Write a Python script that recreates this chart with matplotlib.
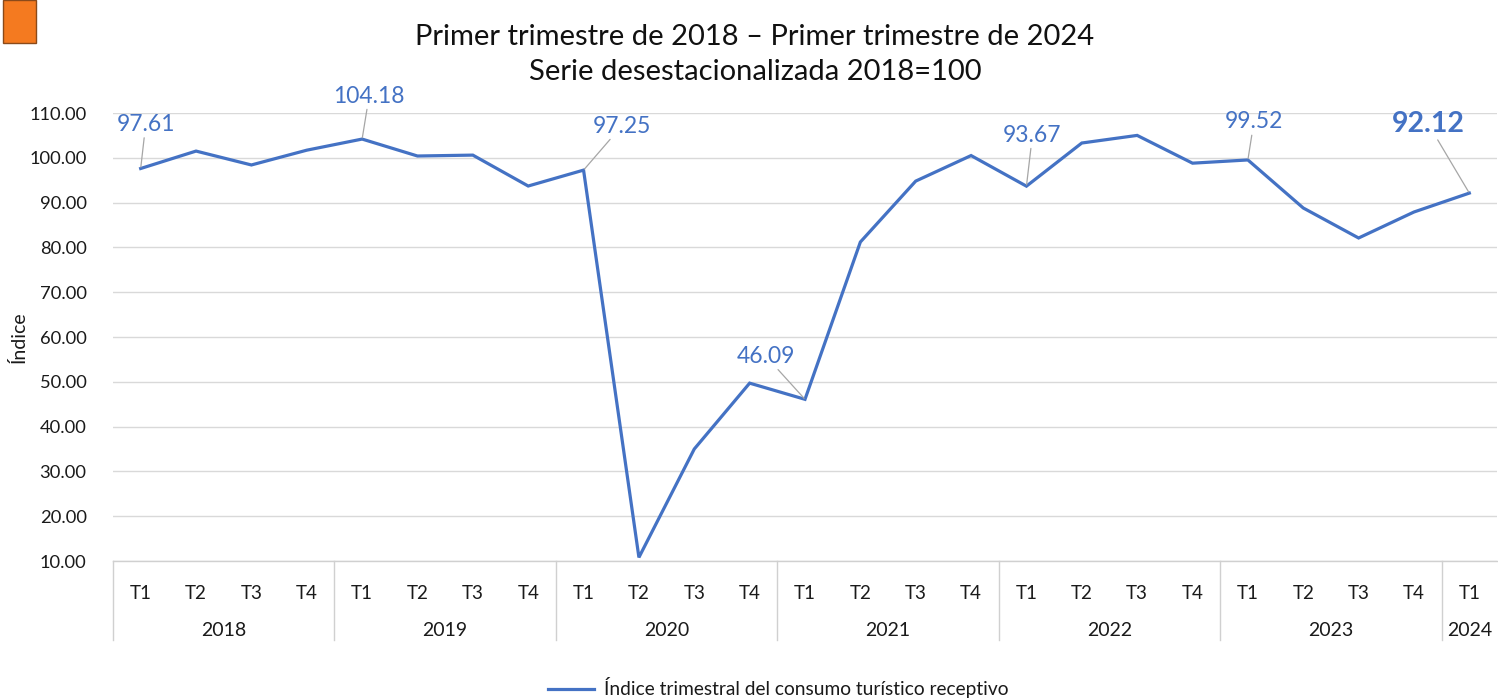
import matplotlib
matplotlib.use("Agg")
import matplotlib.pyplot as plt
from matplotlib.patches import Rectangle
from matplotlib.lines import Line2D
import matplotlib.transforms as mtransforms

plt.rcParams['font.family'] = ['Lato', 'DejaVu Sans']

# ---- data ----
quarters = ["T1", "T2", "T3", "T4"] * 6 + ["T1"]
years = ["2018", "2019", "2020", "2021", "2022", "2023", "2024"]
year_counts = [4, 4, 4, 4, 4, 4, 1]
values = [97.61, 101.5, 98.4, 101.7,
          104.18, 100.4, 100.6, 93.7,
          97.25, 10.8, 35.0, 49.7,
          46.09, 81.2, 94.8, 100.5,
          93.67, 103.3, 105.0, 98.8,
          99.52, 88.8, 82.1, 87.9,
          92.12]
label_idx = [0, 4, 8, 12, 16, 20, 24]
title_lines = ["Primer trimestre de 2018 – Primer trimestre de 2024",
               "Serie desestacionalizada 2018=100"]
series_name = "Índice trimestral del consumo turístico receptivo"
yticks = [10, 20, 30, 40, 50, 60, 70, 80, 90, 100, 110]

BLUE = "#4472C4"
TXT = "#1a1a1a"
W, H = 1498, 699
fig = plt.figure(figsize=(W / 100, H / 100), dpi=100)
ax = fig.add_axes([113 / W, 1 - 561 / H, (1497 - 113) / W, (561 - 113) / H])

x = list(range(len(values)))
ax.plot(x, values, color=BLUE, lw=2.3, solid_joinstyle="miter", zorder=3)

ax.set_xlim(-0.5, len(values) - 0.5)
ax.set_ylim(10, 110)
ax.set_yticks(yticks)
ax.set_yticklabels([f"{v:.2f}" for v in yticks], fontsize=13.2, color=TXT)
ax.yaxis.grid(True, color="#D9D9D9", lw=1.0)
ax.set_axisbelow(True)
ax.tick_params(axis="y", length=0, pad=19)
ax.tick_params(axis="x", length=0, pad=17)
ax.set_xticks(x)
ax.set_xticklabels(quarters, fontsize=13.5, color=TXT)
for s in ["top", "right", "left"]:
    ax.spines[s].set_visible(False)
ax.spines["bottom"].set_color("#D0D0D0")
ax.spines["bottom"].set_linewidth(1.0)

ax.yaxis.set_label_coords(-(113 - 28) / 1384, 0.5)
ax.set_ylabel("Índice", fontsize=14, color=TXT)

# year groups
trans = mtransforms.blended_transform_factory(ax.transData, ax.transAxes)
sep_bottom = -(640 - 561) / 448
start = 0
bounds = [-0.5]
for yr, n in zip(years, year_counts):
    center = start + (n - 1) / 2
    ax.text(center, -(630 - 561) / 448, yr, transform=trans, ha="center",
            va="center", fontsize=14, color=TXT)
    start += n
    bounds.append(start - 0.5)
for b in bounds[:-1]:
    ax.add_line(Line2D([b, b], [0, sep_bottom], transform=trans, color="#D0D0D0",
                       lw=1.0, clip_on=False))

# data labels
offsets = {0: (5, 44), 4: (7, 43), 8: (38, 44), 12: (-39, 43),
           16: (6, 51), 20: (6, 38), 24: (-41, 69)}
for i in label_idx:
    dx, dy = offsets[i]
    bold = (i == len(values) - 1)
    ax.annotate(f"{values[i]:.2f}", xy=(x[i], values[i]), xytext=(dx, dy),
                textcoords="offset pixels", ha="center", va="center",
                fontsize=20.5 if bold else 16.5, color=BLUE,
                fontweight="bold" if bold else "normal",
                arrowprops=dict(arrowstyle="-", color="#A6A6A6", lw=0.9,
                                shrinkA=0, shrinkB=1),
                zorder=4, annotation_clip=False)

# title
fig.text(755 / W, 1 - 37 / H, title_lines[0], ha="center", va="center",
         fontsize=21, color="#111111")
fig.text(755 / W, 1 - 72 / H, title_lines[1], ha="center", va="center",
         fontsize=21, color="#111111")

# legend
leg = fig.legend([Line2D([0], [0], color=BLUE, lw=2.3)], [series_name],
                 loc="center", bbox_to_anchor=(778 / W, 1 - 688 / H),
                 frameon=False, fontsize=13.8, handlelength=2.4,
                 handletextpad=0.5)
for t in leg.get_texts():
    t.set_color(TXT)

# orange marker top-left
fig.patches.append(Rectangle((3 / W, 1 - 43 / H), 33 / W, 43 / H,
                             transform=fig.transFigure, facecolor="#F47A20",
                             edgecolor="#8A4A1A", lw=1.0))

fig.savefig("out.png", dpi=100)
